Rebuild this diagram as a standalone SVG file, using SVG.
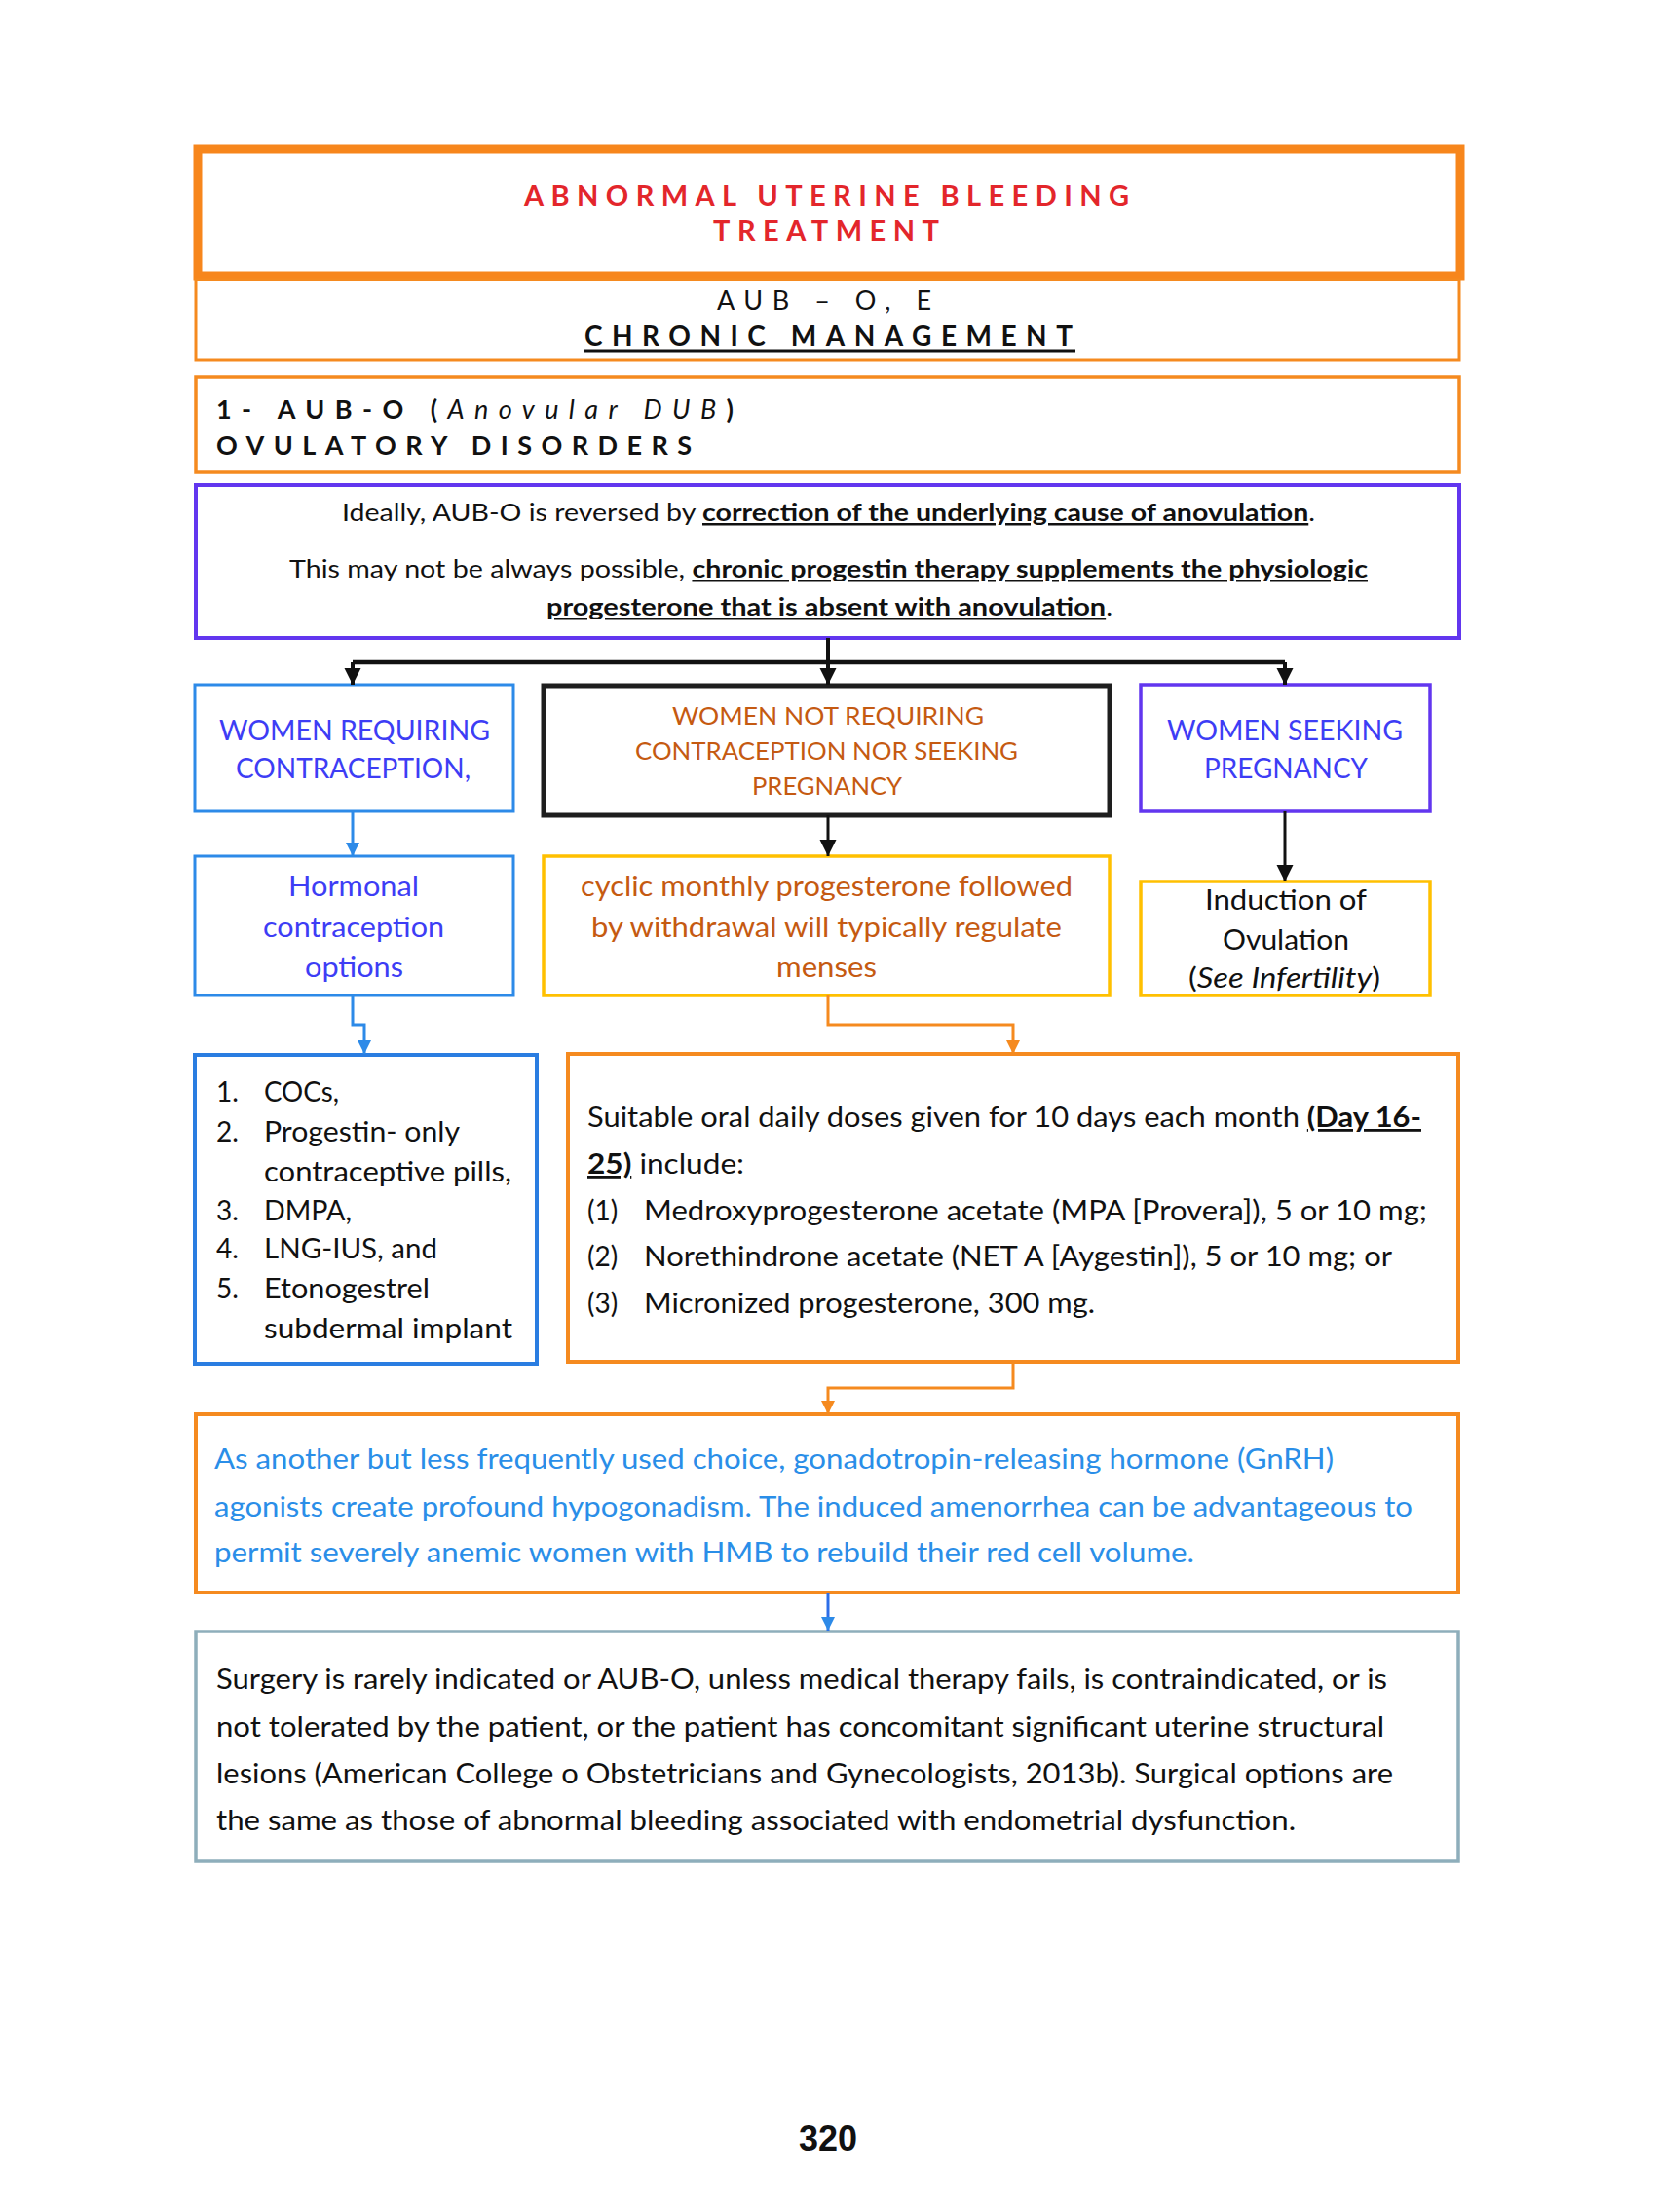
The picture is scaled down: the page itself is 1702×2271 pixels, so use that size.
<svg xmlns="http://www.w3.org/2000/svg" width="1702" height="2271" viewBox="0 0 1702 2271">
<defs>
<style>
text{font-family:Lato,"Noto Sans","DejaVu Sans",sans-serif;}
.box{fill:#ffffff;}
.or{stroke:#f58a1f;}
.b{font-weight:bold;}
.i{font-style:italic;font-weight:normal;}
.u{text-decoration:underline;}
.cal{font-size:27px;}
.red{fill:#e3262b;}
.bp{fill:#3d3df5;}
.brn{fill:#c55a11;}
.blu{fill:#2a8ee8;}
.blk{fill:#111111;}
.conn{fill:none;}
</style>
<marker id="ah-k" viewBox="0 0 10 10" refX="10" refY="5" markerUnits="userSpaceOnUse" markerWidth="17" markerHeight="18" orient="auto"><path d="M0,0 L10,5 L0,10 z" fill="#111111"/></marker>
<marker id="ah-b" viewBox="0 0 10 10" refX="10" refY="5" markerUnits="userSpaceOnUse" markerWidth="15" markerHeight="14" orient="auto"><path d="M0,0 L10,5 L0,10 z" fill="#2d8ae8"/></marker>
<marker id="ah-o" viewBox="0 0 10 10" refX="10" refY="5" markerUnits="userSpaceOnUse" markerWidth="15" markerHeight="14" orient="auto"><path d="M0,0 L10,5 L0,10 z" fill="#f58a1f"/></marker>
</defs>
<rect width="1702" height="2271" fill="#ffffff"/>

<g id="title">
<rect class="box" x="203" y="153" width="1296" height="130" fill="none" stroke="#f7861c" stroke-width="9"/>
<text class="b red" x="538" y="211" font-size="29" textLength="621" lengthAdjust="spacing">ABNORMAL UTERINE BLEEDING</text>
<text class="b red" x="732" y="247" font-size="29" textLength="232" lengthAdjust="spacing">TREATMENT</text>
</g>

<g id="subtitle">
<rect x="201" y="287" width="1297" height="83" fill="#ffffff" stroke="#f58a1f" stroke-width="3"/>
<text class="blk" x="736" y="318" font-size="27" textLength="220" lengthAdjust="spacing">AUB – O, E</text>
<text class="b blk" x="600" y="355" font-size="28" textLength="501" lengthAdjust="spacing">CHRONIC MANAGEMENT</text>
<line x1="600" y1="360" x2="1104" y2="360" stroke="#111111" stroke-width="3"/>
</g>

<g id="aubo">
<rect x="201" y="387" width="1297" height="98" fill="#ffffff" stroke="#f58a1f" stroke-width="3.5"/>
<text class="b blk" x="222" y="430" font-size="27" textLength="531" lengthAdjust="spacing">1- AUB-O (<tspan class="i">Anovular DUB</tspan>)</text>
<text class="b blk" x="222" y="467" font-size="27" textLength="488" lengthAdjust="spacing">OVULATORY DISORDERS</text>
</g>

<g id="ideally">
<rect x="201" y="498" width="1297" height="157" fill="#ffffff" stroke="#6236ef" stroke-width="4"/>
<text class="blk" x="351" y="535" font-size="25" textLength="999" lengthAdjust="spacingAndGlyphs">Ideally, AUB-O is reversed by <tspan class="b u">correction of the underlying cause of anovulation</tspan>.</text>
<text class="blk" x="297" y="593" font-size="25" textLength="1107" lengthAdjust="spacingAndGlyphs">This may not be always possible, <tspan class="b u">chronic progestin therapy supplements the physiologic</tspan></text>
<text class="blk" x="561" y="632" font-size="25" textLength="581" lengthAdjust="spacingAndGlyphs"><tspan class="b u">progesterone that is absent with anovulation</tspan>.</text>
</g>

<g id="women-contraception">
<rect x="200" y="703" width="327" height="130" fill="#ffffff" stroke="#2d8ae8" stroke-width="3"/>
<text class="bp" x="225" y="760" font-size="28" textLength="278" lengthAdjust="spacingAndGlyphs">WOMEN REQUIRING</text>
<text class="bp" x="242" y="799" font-size="28" textLength="241" lengthAdjust="spacingAndGlyphs">CONTRACEPTION,</text>
</g>

<g id="women-not-requiring">
<rect x="558" y="704" width="581" height="133" fill="#ffffff" stroke="#1e1e1e" stroke-width="5"/>
<text class="brn" x="690" y="744" font-size="25" textLength="320" lengthAdjust="spacingAndGlyphs">WOMEN NOT REQUIRING</text>
<text class="brn" x="652" y="780" font-size="25" textLength="393" lengthAdjust="spacingAndGlyphs">CONTRACEPTION NOR SEEKING</text>
<text class="brn" x="772" y="816" font-size="25" textLength="154" lengthAdjust="spacingAndGlyphs">PREGNANCY</text>
</g>

<g id="women-seeking">
<rect x="1171" y="703" width="297" height="130" fill="#ffffff" stroke="#6236ef" stroke-width="3.5"/>
<text class="bp" x="1198" y="760" font-size="28" textLength="242" lengthAdjust="spacingAndGlyphs">WOMEN SEEKING</text>
<text class="bp" x="1236" y="799" font-size="28" textLength="168" lengthAdjust="spacingAndGlyphs">PREGNANCY</text>
</g>

<g id="hormonal">
<rect x="200" y="879" width="327" height="143" fill="#ffffff" stroke="#2d8ae8" stroke-width="3"/>
<text class="bp" x="296" y="920" font-size="28" textLength="134" lengthAdjust="spacingAndGlyphs">Hormonal</text>
<text class="bp" x="270" y="962" font-size="28" textLength="186" lengthAdjust="spacingAndGlyphs">contraception</text>
<text class="bp" x="313" y="1003" font-size="28" textLength="101" lengthAdjust="spacingAndGlyphs">options</text>
</g>

<g id="cyclic">
<rect x="558" y="879" width="581" height="143" fill="#ffffff" stroke="#ffc000" stroke-width="3.5"/>
<text class="brn" x="596" y="920" font-size="28" textLength="505" lengthAdjust="spacingAndGlyphs">cyclic monthly progesterone followed</text>
<text class="brn" x="607" y="962" font-size="28" textLength="483" lengthAdjust="spacingAndGlyphs">by withdrawal will typically regulate</text>
<text class="brn" x="797" y="1003" font-size="28" textLength="103" lengthAdjust="spacingAndGlyphs">menses</text>
</g>

<g id="induction">
<rect x="1171" y="905" width="297" height="117" fill="#ffffff" stroke="#ffc000" stroke-width="3.5"/>
<text class="blk" x="1237" y="934" font-size="28" textLength="166" lengthAdjust="spacingAndGlyphs">Induction of</text>
<text class="blk" x="1255" y="975" font-size="28" textLength="130" lengthAdjust="spacingAndGlyphs">Ovulation</text>
<text class="blk" x="1220" y="1014" font-size="28" textLength="197" lengthAdjust="spacingAndGlyphs">(<tspan class="i">See Infertility</tspan>)</text>
</g>

<g id="methods-list">
<rect x="200" y="1083" width="351" height="317" fill="#ffffff" stroke="#2a7de1" stroke-width="4"/>
<g class="blk" font-size="28">
<text x="222" y="1131">1.</text>
<text x="271" y="1131" textLength="77" lengthAdjust="spacingAndGlyphs">COCs,</text>
<text x="222" y="1172">2.</text>
<text x="271" y="1172" textLength="201" lengthAdjust="spacingAndGlyphs">Progestin- only</text>
<text x="271" y="1213" textLength="254" lengthAdjust="spacingAndGlyphs">contraceptive pills,</text>
<text x="222" y="1253">3.</text>
<text x="271" y="1253" textLength="90" lengthAdjust="spacingAndGlyphs">DMPA,</text>
<text x="222" y="1292">4.</text>
<text x="271" y="1292" textLength="178" lengthAdjust="spacingAndGlyphs">LNG-IUS, and</text>
<text x="222" y="1333">5.</text>
<text x="271" y="1333" textLength="170" lengthAdjust="spacingAndGlyphs">Etonogestrel</text>
<text x="271" y="1374" textLength="255" lengthAdjust="spacingAndGlyphs">subdermal implant</text>
</g>
</g>

<g id="doses">
<rect x="583" y="1082" width="914" height="316" fill="#ffffff" stroke="#f58a1f" stroke-width="4"/>
<g class="blk" font-size="28">
<text x="603" y="1157" textLength="856" lengthAdjust="spacingAndGlyphs">Suitable oral daily doses given for 10 days each month <tspan class="b u">(Day 16-</tspan></text>
<text x="603" y="1205" textLength="161" lengthAdjust="spacingAndGlyphs"><tspan class="b u">25)</tspan> include:</text>
<text x="603" y="1253">(1)</text>
<text x="661" y="1253" textLength="804" lengthAdjust="spacingAndGlyphs">Medroxyprogesterone acetate (MPA [Provera]), 5 or 10 mg;</text>
<text x="603" y="1300">(2)</text>
<text x="661" y="1300" textLength="768" lengthAdjust="spacingAndGlyphs">Norethindrone acetate (NET A [Aygestin]), 5 or 10 mg; or</text>
<text x="603" y="1348">(3)</text>
<text x="661" y="1348" textLength="463" lengthAdjust="spacingAndGlyphs">Micronized progesterone, 300 mg.</text>
</g>
</g>

<g id="gnrh">
<rect x="201" y="1452" width="1296" height="183" fill="#ffffff" stroke="#f58a1f" stroke-width="4"/>
<g class="blu" font-size="28">
<text x="220" y="1508" textLength="1149" lengthAdjust="spacingAndGlyphs">As another but less frequently used choice, gonadotropin-releasing hormone (GnRH)</text>
<text x="220" y="1557" textLength="1230" lengthAdjust="spacingAndGlyphs">agonists create profound hypogonadism. The induced amenorrhea can be advantageous to</text>
<text x="220" y="1604" textLength="1006" lengthAdjust="spacingAndGlyphs">permit severely anemic women with HMB to rebuild their red cell volume.</text>
</g>
</g>

<g id="surgery">
<rect x="201" y="1675" width="1296" height="236" fill="#ffffff" stroke="#8eaebb" stroke-width="3.5"/>
<g class="blk" font-size="28">
<text x="222" y="1734" textLength="1202" lengthAdjust="spacingAndGlyphs">Surgery is rarely indicated or AUB-O, unless medical therapy fails, is contraindicated, or is</text>
<text x="222" y="1783" textLength="1199" lengthAdjust="spacingAndGlyphs">not tolerated by the patient, or the patient has concomitant significant uterine structural</text>
<text x="222" y="1831" textLength="1208" lengthAdjust="spacingAndGlyphs">lesions (American College o Obstetricians and Gynecologists, 2013b). Surgical options are</text>
<text x="222" y="1879" textLength="1108" lengthAdjust="spacingAndGlyphs">the same as those of abnormal bleeding associated with endometrial dysfunction.</text>
</g>
</g>

<g id="connectors" class="conn">
<path d="M850,655 L850,680" stroke="#111111" stroke-width="4"/>
<path d="M362,680 L1319,680" stroke="#111111" stroke-width="4.5"/>
<path d="M362,680 L362,703" stroke="#111111" stroke-width="4" marker-end="url(#ah-k)"/>
<path d="M850,680 L850,703" stroke="#111111" stroke-width="4" marker-end="url(#ah-k)"/>
<path d="M1319,680 L1319,703" stroke="#111111" stroke-width="4" marker-end="url(#ah-k)"/>
<path d="M362,833 L362,879" stroke="#2d8ae8" stroke-width="3" marker-end="url(#ah-b)"/>
<path d="M850,837 L850,879" stroke="#111111" stroke-width="3" marker-end="url(#ah-k)"/>
<path d="M1319,833 L1319,905" stroke="#111111" stroke-width="3" marker-end="url(#ah-k)"/>
<path d="M362,1022 L362,1052 L374,1052 L374,1082" stroke="#2d8ae8" stroke-width="3" marker-end="url(#ah-b)"/>
<path d="M850,1022 L850,1052 L1040,1052 L1040,1082" stroke="#f58a1f" stroke-width="3" marker-end="url(#ah-o)"/>
<path d="M1040,1398 L1040,1425 L850,1425 L850,1452" stroke="#f58a1f" stroke-width="3" marker-end="url(#ah-o)"/>
<path d="M850,1635 L850,1674" stroke="#2d6ee8" stroke-width="3" marker-end="url(#ah-b)"/>
</g>

<g id="page-number">
<text x="850" y="2208" text-anchor="middle" font-family="'Liberation Sans',Arial,sans-serif" font-weight="bold" font-size="36" fill="#111111" style="font-family:'Liberation Sans',Arial,sans-serif">320</text>
</g>
</svg>
